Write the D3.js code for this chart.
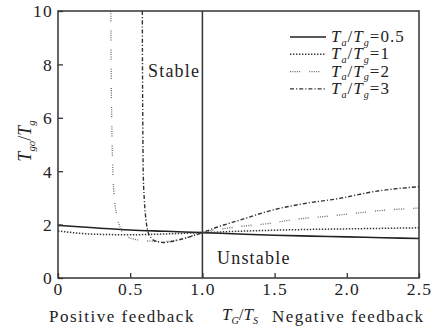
<!DOCTYPE html>
<html>
<head>
<meta charset="utf-8">
<script src="https://cdn.jsdelivr.net/npm/d3@7"></script>
<style>
	body { margin: 0; background: white; }
	svg text { font-family: "Liberation Serif", "Times New Roman", serif; fill: #222; }
</style>
</head>
<body>
<svg id="chart" width="439" height="329"></svg>
<script>

// T_G/T_S vs T_go/T_g, one curve per Ta/Tg ratio
var ratioLabels = ["0.5", "1", "2", "3"];

var curve05 = [[0, 1.97], [0.25, 1.88], [0.5, 1.8], [0.75, 1.75], [1.0, 1.7], [1.25, 1.65], [1.5, 1.6], [1.75, 1.57], [2.0, 1.54], [2.25, 1.51], [2.5, 1.48]];

var curve1 = [[0, 1.76], [0.1, 1.7], [0.25, 1.64], [0.5, 1.62], [0.75, 1.65], [1.0, 1.7], [1.25, 1.75], [1.5, 1.79], [1.75, 1.82], [2.0, 1.84], [2.25, 1.86], [2.5, 1.88]];

var curve2 = [[0.366, 10], [0.368, 8], [0.372, 6], [0.38, 4], [0.39, 3], [0.405, 2.4], [0.43, 1.9], [0.47, 1.58], [0.55, 1.43], [0.65, 1.38], [0.75, 1.37], [0.85, 1.45], [0.93, 1.58], [1.0, 1.7], [1.25, 1.92], [1.47, 2.05], [1.65, 2.2], [1.84, 2.3], [2.02, 2.4], [2.22, 2.52], [2.5, 2.62]];

var curve3 = [[0.584, 10], [0.585, 8], [0.587, 6], [0.59, 4], [0.597, 3], [0.605, 2.4], [0.62, 1.8], [0.645, 1.5], [0.69, 1.36], [0.74, 1.33], [0.83, 1.42], [0.93, 1.57], [1.0, 1.7], [1.1, 1.9], [1.26, 2.17], [1.49, 2.55], [1.72, 2.8], [1.95, 2.98], [2.18, 3.23], [2.5, 3.42]];

var xTicks = [0, 0.5, 1.0, 1.5, 2.0, 2.5];
var xTickLabels = ["0", "0.5", "1.0", "1.5", "2.0", "2.5"];
var yTicks = [0, 2, 4, 6, 8, 10];

var allCurves = [curve05, curve1, curve2, curve3];

var svg = d3.select("#chart");

var margin = { top: 11, bottom: 51, left: 58, right: 20 };
var width = 439, height = 329;

var xScale = d3.scaleLinear()
	.domain([0, 2.5])
	.range([margin.left, width - margin.right]);

var yScale = d3.scaleLinear()
	.domain([0, 10])
	.range([height - margin.bottom, margin.top]);

var styles = [
	{ dash: null, width: 1.6, color: "#222" },
	{ dash: "1.4,1.6", width: 1.5, color: "#333" },
	{ dash: "1,1.3,1,1.3,1,1.3,1,1.3,1,9", width: 1.3, color: "#666" },
	{ dash: "4,2,1.2,2", width: 1.4, color: "#333" }
];

svg.append("clipPath")
	.attr("id", "plotClip")
	.append("rect")
	.attr("x", xScale(0))
	.attr("y", yScale(10))
	.attr("width", xScale(2.5) - xScale(0))
	.attr("height", yScale(0) - yScale(10));

var line = d3.line()
	.x(d => xScale(d[0]))
	.y(d => yScale(d[1]))
	.curve(d3.curveMonotoneX);

svg.append("g")
	.attr("clip-path", "url(#plotClip)")
	.selectAll("path")
	.data(allCurves)
	.enter()
	.append("path")
	.attr("d", line)
	.attr("fill", "none")
	.attr("stroke", (d, i) => styles[i].color)
	.attr("stroke-width", (d, i) => styles[i].width)
	.attr("stroke-dasharray", (d, i) => styles[i].dash);

// axes with inward ticks
var xAxis = d3.axisBottom(xScale)
	.tickValues(xTicks)
	.tickFormat((d, i) => xTickLabels[i])
	.tickSizeInner(-5)
	.tickSizeOuter(0)
	.tickPadding(5);

var yAxis = d3.axisLeft(yScale)
	.tickValues(yTicks)
	.tickSizeInner(-5)
	.tickSizeOuter(0)
	.tickPadding(5);

var gx = svg.append("g")
	.attr("transform", "translate(0," + yScale(0) + ")")
	.call(xAxis);

var gy = svg.append("g")
	.attr("transform", "translate(" + xScale(0) + ",0)")
	.call(yAxis);

[gx, gy].forEach(g => {
	g.select(".domain").remove();
	g.selectAll("line").attr("stroke", "#333").attr("stroke-width", 1.3);
	g.selectAll("text")
		.attr("font-size", 17.5)
		.attr("letter-spacing", 1.2)
		.attr("fill", "#222")
		.style("font-family", "'Liberation Serif', serif");
});

gy.selectAll("text").attr("dy", "0.34em");

// frame and the T_G/T_S = 1 divider
svg.append("rect")
	.attr("x", xScale(0))
	.attr("y", yScale(10))
	.attr("width", xScale(2.5) - xScale(0))
	.attr("height", yScale(0) - yScale(10))
	.attr("fill", "none")
	.attr("stroke", "#333")
	.attr("stroke-width", 1.5);

svg.append("line")
	.attr("x1", xScale(1))
	.attr("x2", xScale(1))
	.attr("y1", yScale(10))
	.attr("y2", yScale(0))
	.attr("stroke", "#333")
	.attr("stroke-width", 1.5);

svg.append("text")
	.attr("x", 148)
	.attr("y", 77)
	.attr("font-size", 18)
	.attr("letter-spacing", 1.2)
	.text("Stable");

svg.append("text")
	.attr("x", 217)
	.attr("y", 264)
	.attr("font-size", 18)
	.attr("letter-spacing", 1.2)
	.text("Unstable");

// writes T_a / T_b style labels
function fraction(textSel, a, b, tail, size) {
	var sub = size * 0.6;
	var shift = size * 0.22;
	textSel.append("tspan").attr("font-style", "italic").text("T");
	textSel.append("tspan").attr("font-style", "italic").attr("font-size", sub).attr("dy", shift).text(a);
	textSel.append("tspan").attr("dy", -shift).text("/");
	textSel.append("tspan").attr("font-style", "italic").text("T");
	textSel.append("tspan").attr("font-style", "italic").attr("font-size", sub).attr("dy", shift).text(b);
	if (tail) {
		textSel.append("tspan").attr("dy", -shift).text(tail);
	}
}

// legend
var legend = svg.append("g").attr("transform", "translate(290, 37)");

ratioLabels.forEach((r, i) => {
	var row = legend.append("g").attr("transform", "translate(0," + (i * 17.3) + ")");
	row.append("line")
		.attr("x1", 0)
		.attr("x2", 36)
		.attr("y1", 0)
		.attr("y2", 0)
		.attr("stroke", styles[i].color)
		.attr("stroke-width", styles[i].width)
		.attr("stroke-dasharray", styles[i].dash);
	var t = row.append("text")
		.attr("x", 41)
		.attr("y", 5)
		.attr("font-size", 17)
		.attr("letter-spacing", 1);
	fraction(t, "a", "g", "=" + r, 17);
});

// x axis caption
svg.append("text")
	.attr("x", 49)
	.attr("y", 322)
	.attr("font-size", 17)
	.attr("letter-spacing", 1.5)
	.text("Positive feedback");

var xl = svg.append("text")
	.attr("x", 222)
	.attr("y", 320)
	.attr("font-size", 17);
fraction(xl, "G", "S", null, 17);

svg.append("text")
	.attr("x", 272)
	.attr("y", 322)
	.attr("font-size", 17)
	.attr("letter-spacing", 1.5)
	.text("Negative feedback");

// y axis caption
var yl = svg.append("text")
	.attr("transform", "translate(31,141) rotate(-90)")
	.attr("text-anchor", "middle")
	.attr("font-size", 18);
fraction(yl, "go", "g", null, 18);

</script>
</body>
</html>
